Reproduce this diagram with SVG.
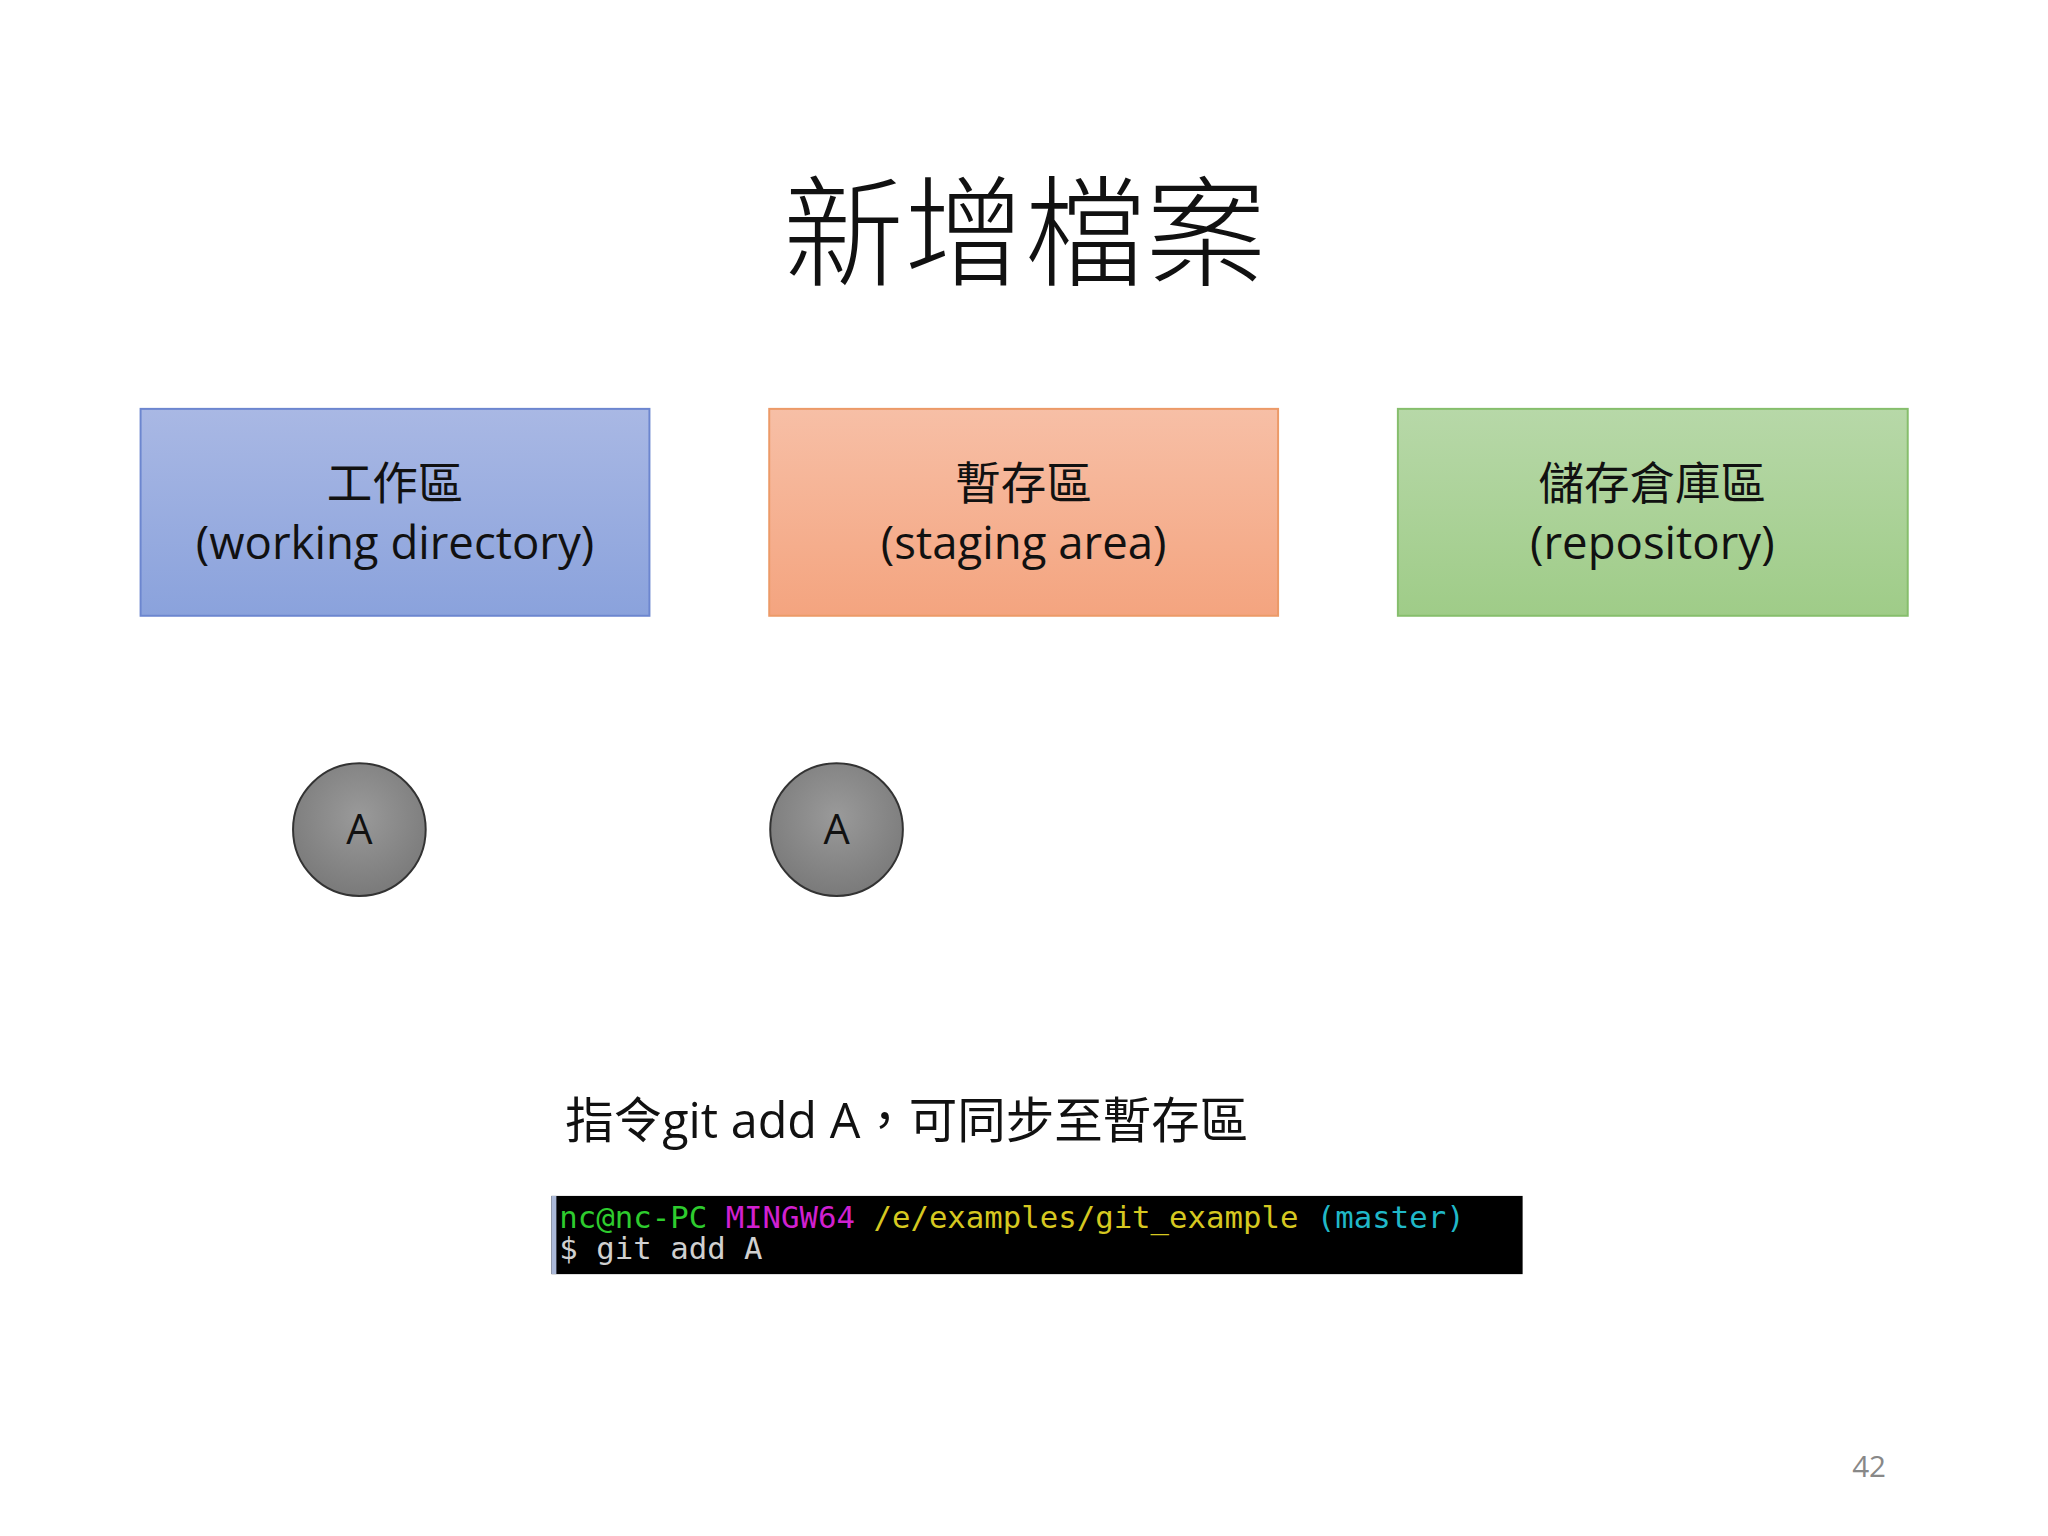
<svg xmlns="http://www.w3.org/2000/svg" width="2048" height="1536" viewBox="0 0 2048 1536">
<defs>
<linearGradient id="gb" x1="0" y1="0" x2="0" y2="1"><stop offset="0" stop-color="#a9b8e4"/><stop offset="1" stop-color="#8aa2dc"/></linearGradient>
<linearGradient id="go" x1="0" y1="0" x2="0" y2="1"><stop offset="0" stop-color="#f7bfa6"/><stop offset="1" stop-color="#f4a47f"/></linearGradient>
<linearGradient id="gg" x1="0" y1="0" x2="0" y2="1"><stop offset="0" stop-color="#b7d8a8"/><stop offset="1" stop-color="#9fcc88"/></linearGradient>
<radialGradient id="gc" cx="0.5" cy="0.4" r="0.6"><stop offset="0" stop-color="#9a9a9a"/><stop offset="1" stop-color="#7a7a7a"/></radialGradient>
</defs>
<style>
.lbl{font-family:"Open Sans","Noto Sans CJK TC",sans-serif;font-size:46px;fill:#111;text-anchor:middle}
.cir{fill:url(#gc);stroke:#333;stroke-width:2}
.ct{font-family:"Open Sans",sans-serif;font-size:42px;fill:#111;text-anchor:middle}
.mono{font-family:"DejaVu Sans Mono","Liberation Mono",monospace;font-size:31px}
</style>
<rect width="2048" height="1536" fill="#fff"/>
<g transform="scale(0.99)">
<text x="1035" y="280" font-family="Noto Sans CJK TC, serif" font-weight="300" font-size="122" text-anchor="middle" fill="#111">新增檔案</text>
<g id="working">
<rect x="142" y="413" width="514" height="209" fill="url(#gb)" stroke="#6c86cf" stroke-width="2"/>
<text class="lbl" x="399" y="505">工作區</text>
<text class="lbl" x="399" y="565">(working directory)</text>
</g>
<g id="staging">
<rect x="777" y="413" width="514" height="209" fill="url(#go)" stroke="#ec9a68" stroke-width="2"/>
<text class="lbl" x="1034" y="505">暫存區</text>
<text class="lbl" x="1034" y="565">(staging area)</text>
</g>
<g id="repo">
<rect x="1412" y="413" width="515" height="209" fill="url(#gg)" stroke="#86be6c" stroke-width="2"/>
<text class="lbl" x="1669" y="505">儲存倉庫區</text>
<text class="lbl" x="1669" y="565">(repository)</text>
</g>
<g id="fileA1"><circle class="cir" cx="363" cy="838" r="67"/><text class="ct" x="363" y="853">A</text></g>
<g id="fileA2"><circle class="cir" cx="845" cy="838" r="67"/><text class="ct" x="845" y="853">A</text></g>
<g id="connectors"></g>
<text x="571" y="1150" font-family="Open Sans, Noto Sans CJK TC, sans-serif" font-size="49" fill="#111">指令git add A，可同步至暫存區</text>
<g id="terminal">
<rect x="557" y="1208" width="981" height="79" fill="#000"/>
<rect x="557" y="1208" width="5" height="79" fill="#aab8d8"/>
<text class="mono" x="565" y="1240" xml:space="preserve"><tspan fill="#2ecc2e">nc@nc-PC</tspan> <tspan fill="#d020d0">MINGW64</tspan> <tspan fill="#d6c820">/e/examples/git_example</tspan> <tspan fill="#20b8c8">(master)</tspan></text>
<text class="mono" x="565" y="1272" fill="#d0d0d0">$ git add A</text>
</g>
<text x="1888" y="1492" font-family="Open Sans, sans-serif" font-size="30" fill="#888" text-anchor="middle">42</text>
</g>
</svg>
